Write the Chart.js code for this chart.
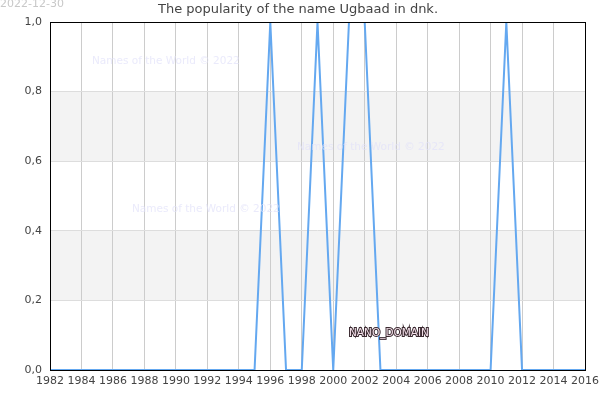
<!DOCTYPE html>
<html>
<head>
<meta charset="utf-8">
<script src="https://cdn.jsdelivr.net/npm/chart.js@4/dist/chart.umd.min.js"></script>
<style>
html,body{margin:0;padding:0;background:#fff;}
#wrap{width:600px;height:400px;}
</style>
</head>
<body>
<div id="wrap"><canvas id="c" width="600" height="400"></canvas></div>
<script>
const years = [1982,1983,1984,1985,1986,1987,1988,1989,1990,1991,1992,1993,1994,1995,1996,1997,1998,1999,2000,2001,2002,2003,2004,2005,2006,2007,2008,2009,2010,2011,2012,2013,2014,2015,2016];
const popularity = [0,0,0,0,0,0,0,0,0,0,0,0,0,0,1,0,0,1,0,1,1,0,0,0,0,0,0,0,0,1,0,0,0,0,0];
const titleText = 'The popularity of the name Ugbaad in dnk.';
const dateText = '2022-12-30';
const watermark = 'Names of the World © 2022';
const bands = [[0.2,0.4],[0.6,0.8]];

const decor = {
  id:'decor',
  beforeDraw(chart){
    const {ctx, chartArea:a, scales:{y}} = chart;
    ctx.save();
    ctx.fillStyle='#fff';
    ctx.fillRect(0,0,chart.width,chart.height);
    ctx.fillStyle='#f3f3f3';
    bands.forEach(b=>{
      const y1=y.getPixelForValue(b[1]), y0=y.getPixelForValue(b[0]);
      ctx.fillRect(a.left,y1,a.right-a.left,y0-y1);
    });
    ctx.restore();
  },
  afterDraw(chart){
    const {ctx, chartArea:a} = chart;
    ctx.save();
    ctx.strokeStyle='#000';
    ctx.lineWidth=1;
    ctx.strokeRect(Math.round(a.left)+0.5, Math.round(a.top)+0.5, Math.round(a.right-a.left), Math.round(a.bottom-a.top));
    ctx.font='13px "DejaVu Sans"';
    ctx.fillStyle='#444';
    ctx.textAlign='center';
    ctx.textBaseline='middle';
    ctx.fillText(titleText, 298, 10);
    ctx.font='11px "DejaVu Sans"';
    ctx.fillStyle='#c8c8c8';
    ctx.textAlign='left';
    ctx.fillText(dateText, 0, 4);
    ctx.font='10.5px "DejaVu Sans"';
    ctx.fillStyle='rgba(225,225,250,0.7)';
    ctx.fillText(watermark, 92, 61);
    ctx.fillText(watermark, 297, 147);
    ctx.fillText(watermark, 132, 209);
    ctx.font='10.5px "DejaVu Sans"';
    ctx.lineWidth=2;
    ctx.strokeStyle='#3a2a30';
    ctx.strokeText('NANO_DOMAIN', 349, 333);
    ctx.fillStyle='#f4e0ea';
    ctx.fillText('NANO_DOMAIN', 349, 333);
    ctx.restore();
  }
};

new Chart(document.getElementById('c'), {
  type:'line',
  data:{
    datasets:[{
      data: years.map((yr,i)=>({x:yr,y:popularity[i]})),
      borderColor:'#64a8f0',
      borderWidth:2,
      pointRadius:0,
      tension:0,
      fill:false
    }]
  },
  options:{
    responsive:false,
    animation:false,
    devicePixelRatio:1,
    layout:{padding:{top:22,right:15,left:0,bottom:0}},
    plugins:{legend:{display:false},tooltip:{enabled:false},title:{display:false}},
    scales:{
      x:{
        type:'linear',min:1982,max:2016,
        afterFit(s){s.height=30; s.paddingRight=0; s.paddingLeft=0;},
        ticks:{stepSize:2,autoSkip:false,maxRotation:0,color:'#444',font:{family:'DejaVu Sans',size:11},padding:5,callback:v=>String(v)},
        grid:{color:'#cccccc',tickLength:0,drawTicks:false},
        border:{display:false}
      },
      y:{
        min:0,max:1,
        afterFit(s){s.width=50;},
        ticks:{stepSize:0.2,color:'#444',font:{family:'DejaVu Sans',size:11},padding:8,callback:v=>v.toFixed(1).replace('.',',')},
        grid:{color:'#dddddd',drawTicks:false},
        border:{display:false}
      }
    }
  },
  plugins:[decor]
});
</script>
</body>
</html>
